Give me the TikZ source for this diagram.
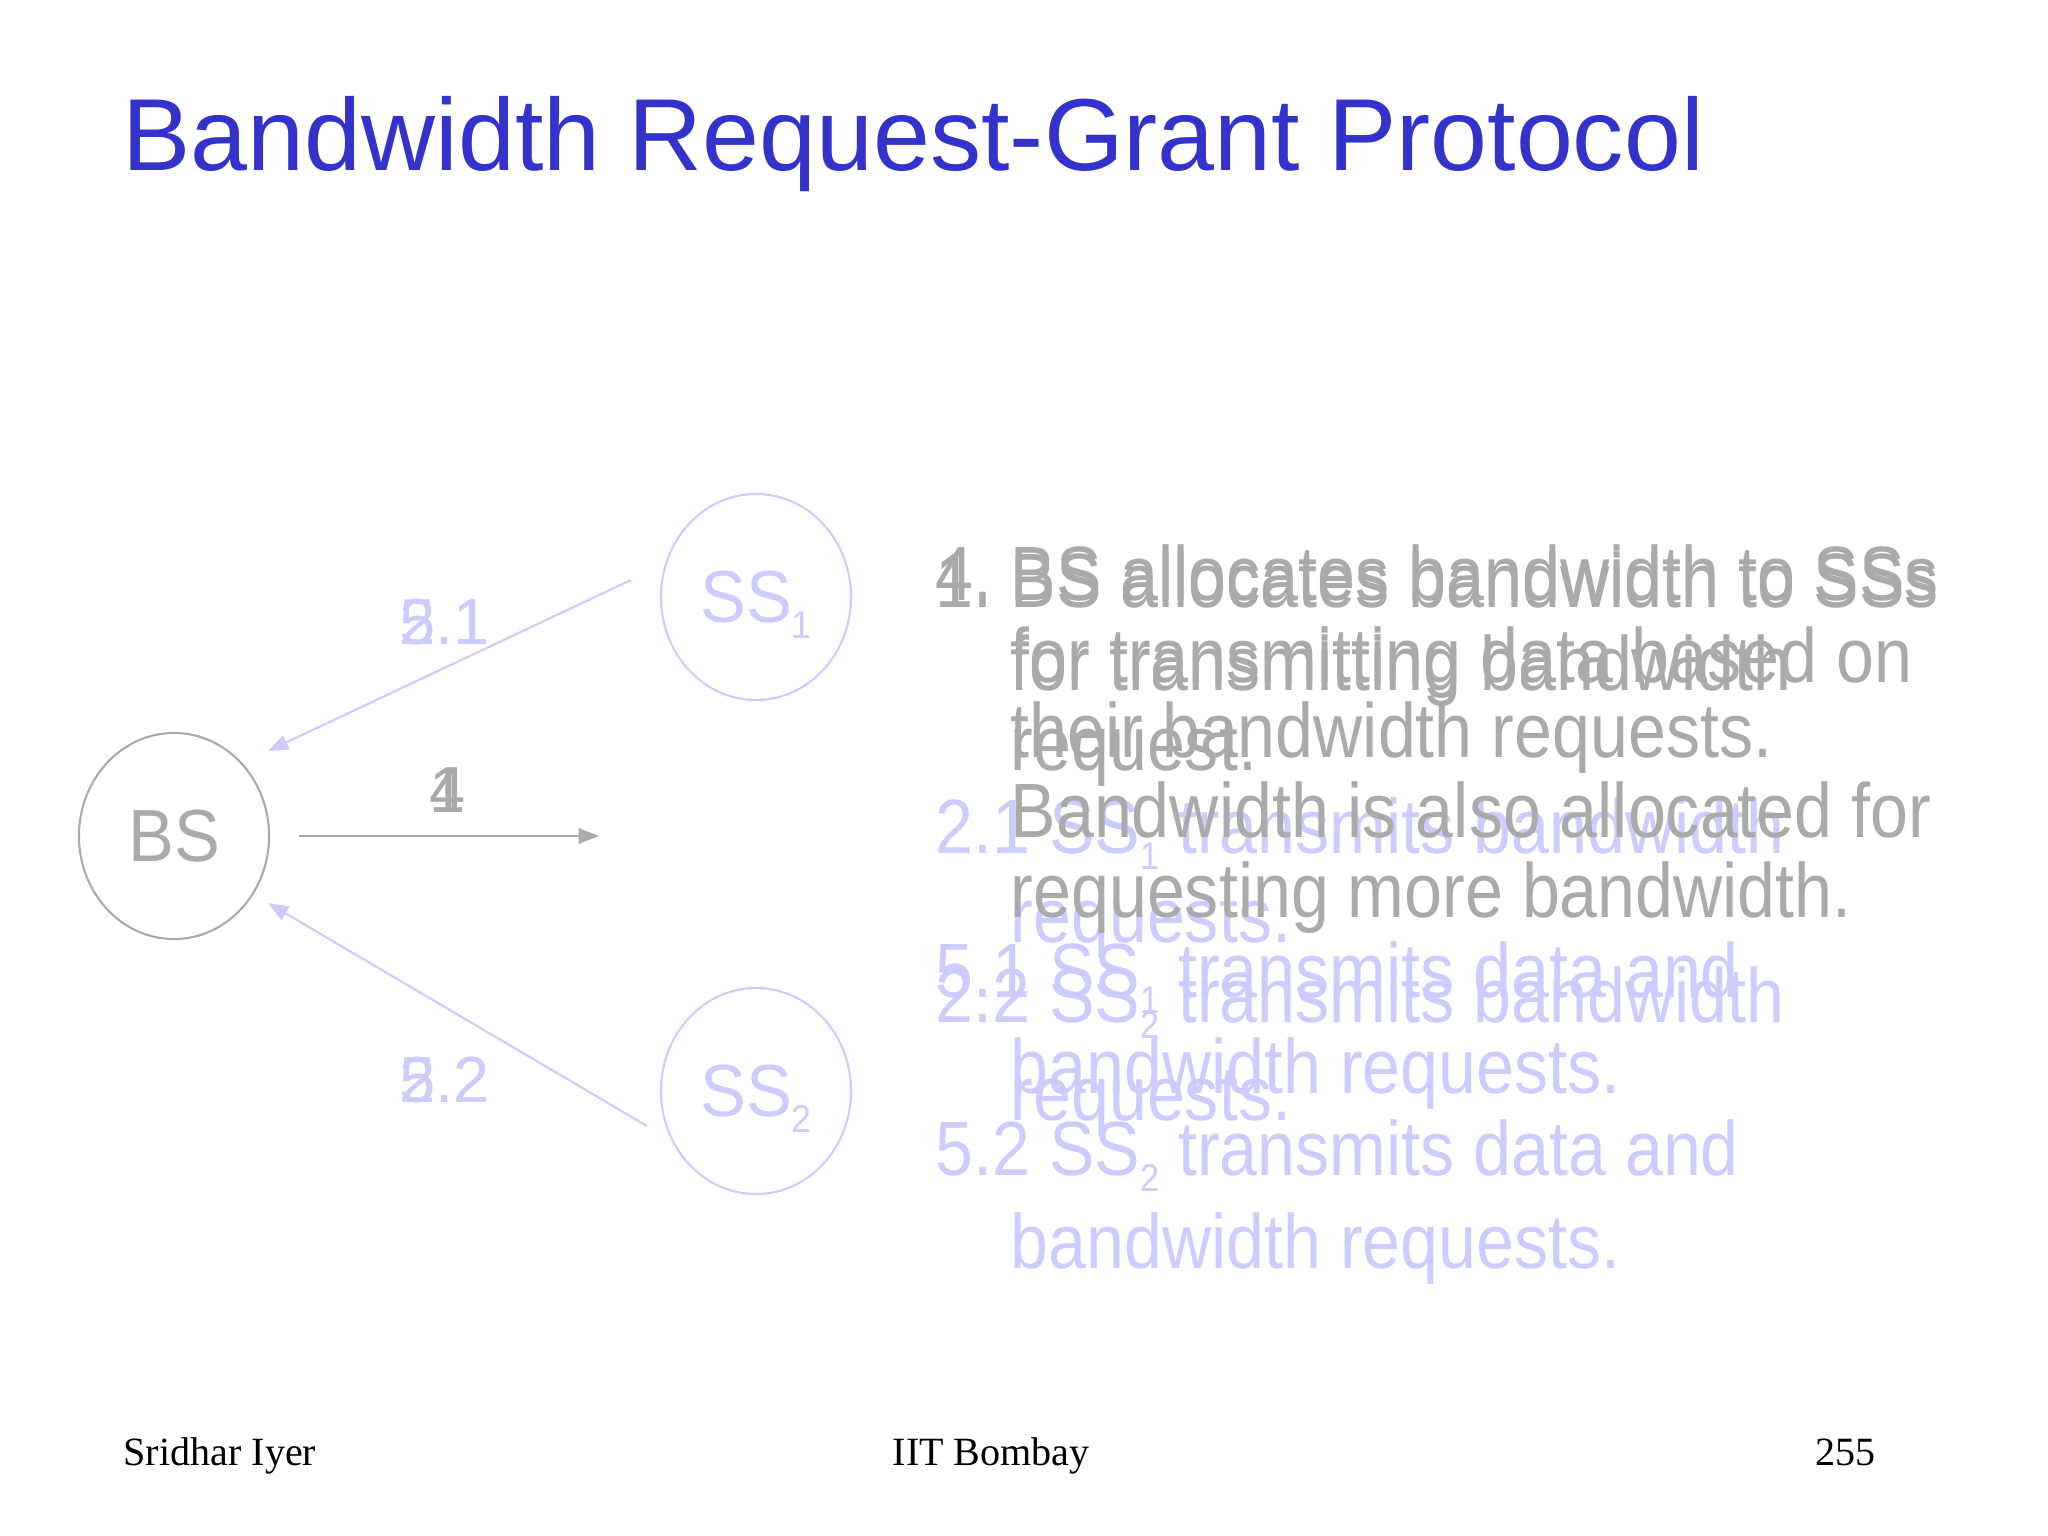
\documentclass[tikz,border=0pt]{standalone}
\usepackage{fontspec}
\setmainfont{Liberation Serif}
\newfontfamily\titlef{Liberation Sans}
\newfontfamily\bodyf[FakeStretch=0.885]{Liberation Sans}
\newfontfamily\nodef[FakeStretch=0.93]{Liberation Sans}
\usetikzlibrary{arrows.meta,shapes.geometric}
\definecolor{titleblue}{RGB}{51,51,204}
\definecolor{txtgray}{RGB}{170,170,170}
\definecolor{lav}{RGB}{204,204,255}
\newcommand\subsc[1]{\raisebox{-4.6pt}[0pt][0pt]{\fontsize{11pt}{12pt}\selectfont #1}}
\newcommand\nsubsc[1]{\raisebox{-4.6pt}[0pt][0pt]{\fontsize{11pt}{12pt}\selectfont #1}}
\newcommand\numbox[1]{\makebox[0.75cm][l]{#1}}
\tikzset{
  ttl/.style={anchor=base west, inner sep=0, text=titleblue, font=\titlef\fontsize{29.1pt}{32pt}\selectfont},
  graytxt/.style={anchor=base west, inner sep=0, text=txtgray, font=\bodyf\fontsize{21.9pt}{24pt}\selectfont},
  lavtxt/.style={anchor=base west, inner sep=0, text=lav, font=\bodyf\fontsize{21.9pt}{24pt}\selectfont},
  foot/.style={anchor=base west, inner sep=0, font=\fontsize{11.4pt}{13pt}\selectfont},
  station/.style={ellipse, draw, line width=0.6pt, minimum width=1.9cm, minimum height=2.06cm, inner sep=0, font=\nodef\fontsize{21pt}{24pt}\selectfont},
  numlbl/.style={inner sep=0, font=\titlef\fontsize{18.5pt}{20pt}\selectfont},
  link/.style={line width=0.6pt, -{Triangle[length=5.8pt,width=4.4pt]}}
}
\begin{document}
\begin{tikzpicture}[x=0.01cm,y=-0.01cm]
\useasboundingbox (0,0) rectangle (2048,1536);
% title
\node[ttl] (title) at (122,170) {Bandwidth Request-Grant Protocol};
% stations
\node[station, draw=txtgray, text=txtgray] (bs) at (174,836) {BS};
\node[station, draw=lav, text=lav] (ss1) at (756,597) {SS\nsubsc{1}};
\node[station, draw=lav, text=lav] (ss2) at (756,1091) {SS\nsubsc{2}};
% connector end points
\coordinate (a1s) at (631,580);
\coordinate (a1e) at (268,751);
\coordinate (a2s) at (647,1126);
\coordinate (a2e) at (268,903);
\coordinate (a3s) at (299,836);
\coordinate (a3e) at (599,836);
\draw[link, draw=lav, fill=lav] (a1s) -- (a1e);
\draw[link, draw=lav, fill=lav] (a2s) -- (a2e);
\draw[link, draw=txtgray, fill=txtgray] (a3s) -- (a3e);
% step labels
\node[numlbl, text=lav, anchor=base west] (l21) at (399,644) {2.1};
\node[numlbl, text=lav, anchor=base west] (l51) at (399,644) {5.1};
\node[numlbl, text=lav, anchor=base west] (l22) at (399,1102) {2.2};
\node[numlbl, text=lav, anchor=base west] (l52) at (399,1102) {5.2};
\node[numlbl, text=txtgray, anchor=base] (l1) at (448,812) {1};
\node[numlbl, text=txtgray, anchor=base] (l4) at (448,812) {4};
% lavender step 2 text
\node[lavtxt] (c1) at (935,853) {2.1 SS\subsc{1} transmits bandwidth};
\node[lavtxt] (c2) at (1010,942) {requests.};
\node[lavtxt] (c3) at (935,1022) {2.2 SS\subsc{2} transmits bandwidth};
\node[lavtxt] (c4) at (1010,1120) {requests.};
% lavender step 5 text
\node[lavtxt] (d1) at (935,997) {5.1 SS\subsc{1} transmits data and};
\node[lavtxt] (d2) at (1010,1093) {bandwidth requests.};
\node[lavtxt] (d3) at (935,1175) {5.2 SS\subsc{2} transmits data and};
\node[lavtxt] (d4) at (1010,1268) {bandwidth requests.};
% gray step 1 text
\node[graytxt] (a1) at (935,607) {\numbox{1.}BS allocates bandwidth to SSs};
\node[graytxt] (a2) at (1010,690) {for transmitting bandwidth};
\node[graytxt] (a3) at (1010,770) {request.};
% gray step 4 text
\node[graytxt] (b1) at (935,600) {\numbox{4.}BS allocates bandwidth to SSs};
\node[graytxt] (b2) at (1010,682) {for transmitting data based on};
\node[graytxt] (b3) at (1010,757) {their bandwidth requests.};
\node[graytxt] (b4) at (1010,837) {Bandwidth is also allocated for};
\node[graytxt] (b5) at (1010,917) {requesting more bandwidth.};
% footer
\node[foot] (f1) at (123,1465) {Sridhar Iyer};
\node[foot] (f2) at (892,1465) {IIT Bombay};
\node[foot] (f3) at (1815,1465) {255};
\end{tikzpicture}
\end{document}
